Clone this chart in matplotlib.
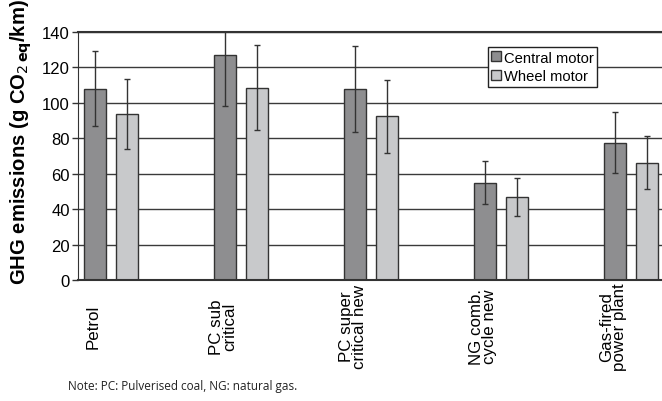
import matplotlib
matplotlib.use("Agg")
import matplotlib.pyplot as plt
import numpy as np

categories = ["Petrol", "PC sub\ncritical", "PC super\ncritical new", "NG comb.\ncycle new", "Gas-fired\npower plant"]
central = [108, 127, 108, 55, 77.6]
central_lo = [87, 98.5, 83.7, 42.8, 60.5]
central_hi = [129.4, 141, 131.9, 67.1, 94.8]
wheel = [93.7, 108.5, 92.3, 46.9, 66.3]
wheel_lo = [73.7, 84.4, 71.6, 36.4, 51.4]
wheel_hi = [113.4, 132.6, 112.7, 57.3, 81.2]

plt.rcParams['font.family'] = ['Liberation Sans', 'DejaVu Sans']

fig = plt.figure(figsize=(6.62, 4.02), dpi=100)
ax = fig.add_axes([78/662, 121/402, 1 - 78/662, 248/402])

x = np.arange(len(categories))
w = 0.169
off = 0.123
c_col = '#8e8e90'
w_col = '#c8c9cb'
edge = '#333333'

ax.set_axisbelow(True)
ax.yaxis.grid(True, color='#3a3a3a', linewidth=1.0)

c = np.array(central); w_ = np.array(wheel)
c_err = [c - np.array(central_lo), np.array(central_hi) - c]
w_err = [w_ - np.array(wheel_lo), np.array(wheel_hi) - w_]

ax.bar(x - off, central, width=w, color=c_col, edgecolor=edge, linewidth=1.0, label='Central motor', zorder=2)
ax.bar(x + off, wheel, width=w, color=w_col, edgecolor=edge, linewidth=1.0, label='Wheel motor', zorder=2)
ax.errorbar(x - off, central, yerr=c_err, fmt='none', ecolor=edge, elinewidth=1.0, capsize=2.5, capthick=1.0, zorder=3)
ax.errorbar(x + off, wheel, yerr=w_err, fmt='none', ecolor=edge, elinewidth=1.0, capsize=2.5, capthick=1.0, zorder=3)

ax.set_xlim(-0.256, 4.236)
ax.set_ylim(0, 140)
ax.set_yticks(np.arange(0, 141, 20))
ax.tick_params(axis='y', labelsize=12, length=4, width=1, color='#333333', direction='out', pad=2)
ax.set_xticks(x - 0.138)
ax.set_xticklabels(categories, rotation=90, fontsize=12.2, ha='center', va='center',
                   linespacing=0.84)
ax.tick_params(axis='x', length=0, pad=33)

ax.spines['right'].set_visible(False)
ax.spines['top'].set_color('#333333')
ax.spines['top'].set_linewidth(1.5)
ax.spines['left'].set_color('#333333')
ax.spines['bottom'].set_color('#333333')
ax.spines['bottom'].set_linewidth(1.5)

ax.set_ylabel('GHG emissions (g CO$_{2\\,\\mathbf{eq}}$/km)', fontsize=14.6, fontweight='bold')
ax.yaxis.set_label_coords((34 - 78) / 584, (281 - 142) / 248)

leg = ax.legend(loc='upper left', bbox_to_anchor=(0.7015, 0.94), fontsize=10.6, frameon=True, fancybox=False,
                edgecolor='#222222', framealpha=1, borderpad=0.25, handlelength=0.65, handleheight=0.65,
                handletextpad=0.2, labelspacing=0.3, borderaxespad=0)
leg.get_frame().set_linewidth(1.0)

fig.text(68/662, 1 - 387/402, 'Note: PC: Pulverised coal, NG: natural gas.', fontsize=8.5,
         family=['Open Sans', 'DejaVu Sans'], va='center', ha='left', color='#222222')

fig.savefig('out.png', dpi=100)
